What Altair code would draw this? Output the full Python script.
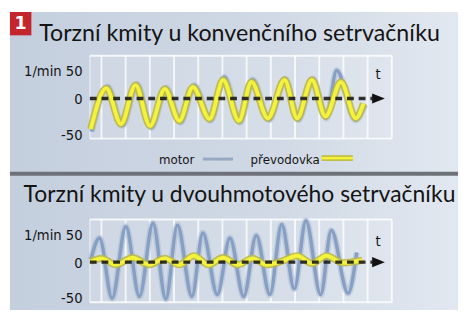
import altair as alt
import pandas as pd

# ---------------- data ----------------
titles = ["Torzní kmity u konvenčního setrvačníku",
          "Torzní kmity u dvouhmotového setrvačníku"]
badge = "1"
series_names = ["motor", "převodovka"]
unit_label = "1/min"
time_label = "t"

y_ticks = [-50, 0, 50]
x_domain = [-0.48, 12.0]
y_domain = [-63, 67]
grid_t = list(range(13))

# conventional flywheel
conv_motor_t = [-0.40, 0.26, 0.87, 1.47, 2.07, 2.68, 3.28, 3.84, 4.52, 5.08,
                5.73, 6.25, 6.93, 7.60, 8.14, 8.74, 9.30, 9.72, 10.50, 10.90]
conv_motor_v = [-52, 19, -43, 23, -46, 17, -38, 21, -35, 34,
                -38, 30, -34, 31, -34, 31, -31, 44, -34, -10]
conv_gear_t = [-0.44, 0.20, 0.81, 1.41, 2.01, 2.62, 3.22, 3.78, 4.47, 5.03,
               5.68, 6.20, 6.88, 7.57, 8.09, 8.70, 9.26, 9.90, 10.51, 10.83]
conv_gear_v = [-48, 16, -40, 21, -43, 15, -35, 18, -32, 29,
               -35, 26, -31, 29, -31, 29, -28, 26, -31, -8]

# dual-mass flywheel
dual_motor_t = [-0.44, -0.08, 0.44, 1.01, 1.57, 2.13, 2.66, 3.14, 3.74, 4.19, 4.79,
                5.31, 5.88, 6.40, 6.96, 7.45, 7.97, 8.45, 9.06, 9.50, 10.19, 10.55]
dual_motor_v = [4, 38, -57, 56, -54, 61, -58, 58, -54, 46, -51,
                38, -54, 42, -51, 59, -42, 65, -51, 50, -49, 15]
dual_gear_t = [-0.44, 0.00, 0.60, 1.29, 1.97, 2.62, 3.22, 3.82, 4.43, 5.03,
               5.64, 6.24, 6.84, 7.49, 8.09, 8.70, 9.30, 9.98, 10.79]
dual_gear_v = [1, 6, -4, 7, -4, 6, -4, 10, -4, 7,
               -4, 6, -4, 2, 10, -2, 10, -1, 3]

axis_t = [-0.48, 11.2]
arrow_t = 11.45
t_label_pos = [(11.43, 38), (11.43, 33)]

# ---------------- styles ----------------
NARROW = "DejaVu Sans Condensed, sans-serif"
TITLE_FONT = "Lato"
INK = "#141414"
W, H = 310, 85

xs = alt.Scale(domain=x_domain, nice=False, zero=False)
ys = alt.Scale(domain=y_domain, nice=False, zero=False)
yaxis = alt.Axis(values=y_ticks, title=None, ticks=False, domain=False, grid=False,
                 labelPadding=8, labelFont=NARROW, labelFontSize=15, labelColor=INK,
                 zindex=2,
                 labelExpr=f"datum.value == 50 ? '{unit_label} 50' : (datum.value + '')",
                 labelOffset={"condition": {"test": "datum.value === 0", "value": 0}, "value": 4})

one = alt.Data(values=[{"k": 0}])


def series_df(t, v):
    return pd.DataFrame({"t": t, "v": v})


def panel(motor_t, motor_v, gear_t, gear_v, tpos, back=(), front=()):
    X = alt.X("t:Q", scale=xs, axis=None)
    Y = alt.Y("v:Q", scale=ys, axis=yaxis)
    layers = list(back)
    layers.append(alt.Chart(one).mark_rect(color="white", opacity=0.13).encode(
        x=alt.datum(x_domain[0], scale=xs, axis=None), x2=alt.datum(x_domain[1]),
        y=alt.datum(y_domain[0], scale=ys, axis=yaxis), y2=alt.datum(y_domain[1])))
    layers.append(alt.Chart(pd.DataFrame({"g": grid_t})).mark_rule(
        color="white", strokeWidth=2, opacity=0.75).encode(x=alt.X("g:Q", scale=xs, axis=None)))
    layers.append(alt.Chart(pd.DataFrame({"g": [x_domain[0]]})).mark_rule(
        color="white", strokeWidth=1.5, opacity=0.5).encode(x=alt.X("g:Q", scale=xs, axis=None)))
    layers.append(alt.Chart(pd.DataFrame({"h": y_domain})).mark_rule(
        color="white", strokeWidth=2, opacity=0.8).encode(y=alt.Y("h:Q", scale=ys, axis=yaxis)))
    md = series_df(motor_t, motor_v)
    gd = series_df(gear_t, gear_v)
    layers.append(alt.Chart(md).mark_line(interpolate="monotone", color="#a9bbd5",
                                          strokeWidth=6.5, opacity=0.55).encode(x=X, y=Y))
    layers.append(alt.Chart(md).mark_line(interpolate="monotone", color="#879fc2",
                                          strokeWidth=3.5).encode(x=X, y=Y))
    layers.append(alt.Chart(gd).mark_line(interpolate="monotone", color="#bdb84a",
                                          strokeWidth=7.5, opacity=0.9).encode(x=X, y=Y))
    layers.append(alt.Chart(gd).mark_line(interpolate="monotone", color="#f3f23c",
                                          strokeWidth=4).encode(x=X, y=Y))
    layers.append(alt.Chart(one).mark_rule(color="#1b1b1b", strokeWidth=3.5,
                                           strokeDash=[7, 5], opacity=0.9).encode(
        x=alt.datum(axis_t[0], scale=xs, axis=None), x2=alt.datum(axis_t[1]),
        y=alt.datum(0, scale=ys, axis=yaxis)))
    layers.append(alt.Chart(one).mark_point(shape="M-1,-0.8L1,0L-1,0.8Z", filled=True,
                                            size=170, color="#111111", opacity=1).encode(
        x=alt.datum(arrow_t, scale=xs, axis=None), y=alt.datum(0, scale=ys, axis=yaxis)))
    layers.append(alt.Chart(one).mark_text(text=time_label, font=NARROW, fontSize=15,
                                           color=INK, baseline="middle").encode(
        x=alt.datum(tpos[0], scale=xs, axis=None), y=alt.datum(tpos[1], scale=ys, axis=yaxis)))
    layers += list(front)
    return alt.layer(*layers).properties(width=W, height=H)


bg = alt.Chart(one).mark_rect(color=alt.LinearGradient(
    gradient="linear", x1=0, x2=1, y1=0, y2=0,
    stops=[alt.GradientStop(color="#c4cfde", offset=0),
           alt.GradientStop(color="#d0d9e5", offset=0.6),
           alt.GradientStop(color="#e2e8f0", offset=1)])).encode(
    x=alt.value(-82), x2=alt.value(378), y=alt.value(-45), y2=alt.value(261))

badge_rect = alt.Chart(one).mark_rect(color="#c4262e").encode(
    x=alt.value(-82), x2=alt.value(-60), y=alt.value(-45), y2=alt.value(-21))
badge_text = alt.Chart(one).mark_text(text=badge, color="white", font="DejaVu Sans",
                                      fontWeight="bold", fontSize=18, align="center",
                                      baseline="middle").encode(
    x=alt.value(-71), y=alt.value(-33))
title1 = alt.Chart(one).mark_text(text=titles[0], font=TITLE_FONT, fontSize=23.8, color=INK,
                                  align="left", baseline="alphabetic").encode(
    x=alt.value(-52), y=alt.value(-15))

leg_motor = alt.Chart(one).mark_text(text=series_names[0], font=NARROW, fontSize=13.5,
                                     color=INK, align="left", baseline="alphabetic").encode(
    x=alt.value(71), y=alt.value(111))
leg_gear = alt.Chart(one).mark_text(text=series_names[1], font=NARROW, fontSize=13.5,
                                    color=INK, align="left", baseline="alphabetic").encode(
    x=alt.value(165), y=alt.value(111))
leg_motor_line = alt.Chart(one).mark_rule(color="#98a9c3", strokeWidth=3).encode(
    x=alt.value(116), x2=alt.value(147), y=alt.value(106))
leg_gear_line1 = alt.Chart(one).mark_rule(color="#c3bd45", strokeWidth=6).encode(
    x=alt.value(238), x2=alt.value(270), y=alt.value(105))
leg_gear_line2 = alt.Chart(one).mark_rule(color="#f4f33c", strokeWidth=2.5).encode(
    x=alt.value(238), x2=alt.value(270), y=alt.value(105))
separator = alt.Chart(one).mark_rule(color="#6e7278", strokeWidth=4).encode(
    x=alt.value(-82), x2=alt.value(378), y=alt.value(121))

title2 = alt.Chart(one).mark_text(text=titles[1], font=TITLE_FONT, fontSize=23.5, color=INK,
                                  align="left", baseline="alphabetic").encode(
    x=alt.value(-68), y=alt.value(-18))

p1 = panel(conv_motor_t, conv_motor_v, conv_gear_t, conv_gear_v, t_label_pos[0],
           back=[bg], front=[badge_rect, badge_text, title1, leg_motor, leg_gear,
                             leg_motor_line, leg_gear_line1, leg_gear_line2, separator])
p2 = panel(dual_motor_t, dual_motor_v, dual_gear_t, dual_gear_v, t_label_pos[1],
           front=[title2])

chart = alt.vconcat(p1, p2, spacing=83, bounds="flush").properties(
    padding=0, background="white").configure_view(strokeWidth=0)

chart.save("out.html", embed_options={"renderer": "svg", "actions": False})
